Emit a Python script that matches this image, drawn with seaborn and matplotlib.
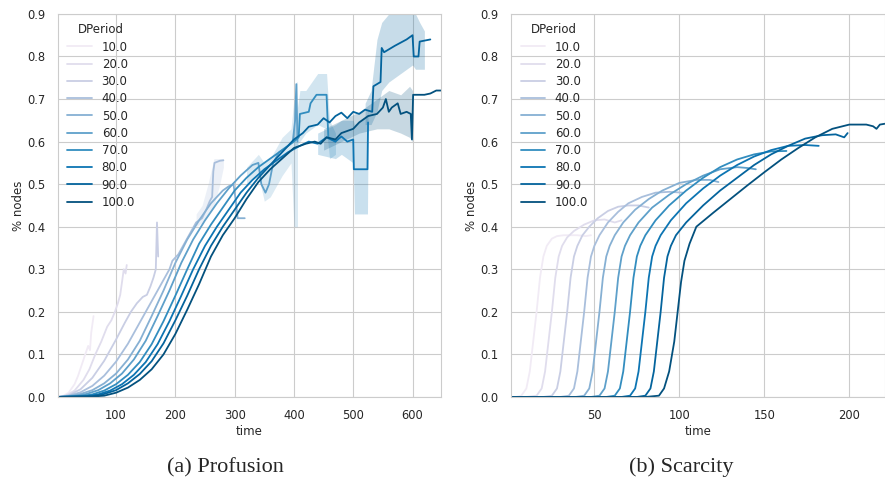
import pandas as pd
import seaborn as sns
import matplotlib.pyplot as plt

periods = ["10.0", "20.0", "30.0", "40.0", "50.0", "60.0", "70.0", "80.0", "90.0", "100.0"]

# (a) Profusion: time / share of nodes, one pair per DPeriod
pro_t10 = [2, 10, 20, 30, 36, 42, 48, 53, 56, 58, 60, 62]
pro_y10 = [0.0, 0.002, 0.01, 0.03, 0.05, 0.075, 0.1, 0.12, 0.11, 0.15, 0.17, 0.19]
pro_t20 = [2, 15, 30, 45, 55, 65, 75, 85, 92, 98, 103, 107, 110, 113, 116, 118]
pro_y20 = [0.0, 0.003, 0.015, 0.04, 0.065, 0.1, 0.13, 0.165, 0.18, 0.2, 0.22, 0.24, 0.27, 0.3, 0.29, 0.31]
pro_t30 = [2, 20, 40, 60, 80, 100, 115, 125, 135, 145, 152, 158, 163, 167, 169, 171]
pro_y30 = [0.0, 0.004, 0.018, 0.045, 0.085, 0.135, 0.175, 0.2, 0.22, 0.235, 0.24, 0.26, 0.28, 0.3, 0.41, 0.33]
pro_t40 = [2, 20, 40, 60, 80, 100, 120, 140, 160, 180, 190, 195, 205, 215, 225, 235, 245, 252, 258, 262, 264, 266, 275, 281]
pro_y40 = [0.0, 0.003, 0.011, 0.026, 0.05, 0.083, 0.125, 0.175, 0.225, 0.275, 0.3, 0.32, 0.335, 0.36, 0.385, 0.41, 0.42, 0.44, 0.46, 0.47, 0.53, 0.55, 0.555, 0.556]
pro_t50 = [2, 20, 40, 60, 80, 100, 120, 140, 160, 180, 200, 220, 240, 260, 280, 290, 298, 302, 305, 317]
pro_y50 = [0.0, 0.002, 0.007, 0.016, 0.032, 0.055, 0.088, 0.132, 0.19, 0.25, 0.315, 0.37, 0.415, 0.455, 0.485, 0.495, 0.5, 0.46, 0.42, 0.42]
pro_t60 = [2, 30, 50, 70, 90, 110, 130, 150, 170, 190, 210, 230, 250, 270, 290, 310, 330, 340, 345, 352, 358, 365, 375, 390, 398, 402, 404, 406]
pro_y60 = [0.0, 0.002, 0.007, 0.016, 0.032, 0.055, 0.088, 0.132, 0.19, 0.25, 0.315, 0.37, 0.415, 0.455, 0.49, 0.52, 0.545, 0.55, 0.5, 0.48, 0.5, 0.55, 0.575, 0.59, 0.6, 0.65, 0.735, 0.6]
pro_t70 = [2, 40, 60, 80, 100, 120, 140, 160, 180, 200, 220, 240, 260, 280, 300, 320, 340, 360, 380, 400, 408, 410, 425, 428, 438, 455, 458, 470]
pro_y70 = [0.0, 0.002, 0.006, 0.015, 0.03, 0.052, 0.082, 0.124, 0.178, 0.238, 0.3, 0.36, 0.405, 0.445, 0.485, 0.515, 0.54, 0.56, 0.58, 0.6, 0.61, 0.665, 0.67, 0.69, 0.71, 0.71, 0.61, 0.6]
pro_t80 = [2, 50, 70, 90, 110, 130, 150, 170, 190, 210, 230, 250, 270, 290, 310, 330, 350, 370, 390, 410, 425, 440, 455, 470, 480, 490, 500, 501, 524, 525]
pro_y80 = [0.0, 0.002, 0.006, 0.015, 0.03, 0.052, 0.082, 0.124, 0.178, 0.238, 0.3, 0.355, 0.4, 0.44, 0.48, 0.51, 0.535, 0.555, 0.575, 0.59, 0.6, 0.595, 0.61, 0.6, 0.612, 0.6, 0.605, 0.535, 0.535, 0.645]
pro_t90 = [2, 60, 80, 100, 120, 140, 160, 180, 200, 220, 240, 260, 280, 300, 320, 340, 360, 380, 400, 415, 425, 440, 450, 460, 470, 480, 490, 500, 510, 520, 532, 534, 546, 548, 552, 570, 590, 600, 602, 610, 612, 630]
pro_y90 = [0.0, 0.002, 0.007, 0.016, 0.032, 0.054, 0.084, 0.126, 0.18, 0.238, 0.3, 0.355, 0.4, 0.44, 0.48, 0.515, 0.545, 0.575, 0.605, 0.62, 0.635, 0.64, 0.655, 0.645, 0.66, 0.668, 0.655, 0.67, 0.665, 0.675, 0.67, 0.73, 0.74, 0.82, 0.81, 0.825, 0.84, 0.85, 0.8, 0.8, 0.835, 0.84]
pro_t100 = [2, 60, 80, 100, 120, 140, 160, 180, 200, 220, 240, 260, 280, 300, 320, 340, 360, 380, 400, 420, 435, 445, 455, 470, 480, 490, 500, 510, 525, 540, 550, 555, 560, 565, 575, 580, 590, 597, 599, 601, 620, 630, 640, 648]
pro_y100 = [0.0, 0.001, 0.003, 0.01, 0.022, 0.04, 0.065, 0.1, 0.148, 0.205, 0.265, 0.33, 0.38, 0.42, 0.465, 0.505, 0.535, 0.56, 0.585, 0.595, 0.6, 0.595, 0.61, 0.605, 0.62, 0.625, 0.63, 0.645, 0.66, 0.665, 0.68, 0.7, 0.67, 0.68, 0.69, 0.665, 0.67, 0.665, 0.605, 0.71, 0.71, 0.713, 0.72, 0.72]

# spread bands (lower / upper) where the runs disagree
band_t40 = [235, 245, 255, 265, 275, 281]
band_lo40 = [0.40, 0.41, 0.43, 0.45, 0.50, 0.54]
band_hi40 = [0.43, 0.45, 0.50, 0.56, 0.56, 0.56]
band_t60 = [320, 340, 350, 360, 380, 395, 400, 404, 406]
band_lo60 = [0.50, 0.52, 0.46, 0.47, 0.52, 0.55, 0.40, 0.40, 0.40]
band_hi60 = [0.54, 0.57, 0.55, 0.56, 0.61, 0.63, 0.70, 0.74, 0.74]
band_t70 = [400, 410, 420, 440, 455, 460, 470]
band_lo70 = [0.58, 0.60, 0.62, 0.64, 0.63, 0.56, 0.57]
band_hi70 = [0.62, 0.72, 0.72, 0.76, 0.76, 0.65, 0.62]
band_t80 = [440, 470, 480, 490, 500, 502, 524, 525]
band_lo80 = [0.57, 0.56, 0.57, 0.56, 0.55, 0.43, 0.43, 0.60]
band_hi80 = [0.62, 0.64, 0.65, 0.65, 0.65, 0.64, 0.66, 0.68]
band_t90 = [520, 530, 540, 548, 560, 580, 600, 605, 612, 620]
band_lo90 = [0.64, 0.64, 0.67, 0.72, 0.74, 0.76, 0.78, 0.77, 0.77, 0.77]
band_hi90 = [0.69, 0.72, 0.84, 0.88, 0.90, 0.90, 0.90, 0.90, 0.88, 0.86]
band_t100 = [450, 480, 510, 540, 560, 580, 595, 600]
band_lo100 = [0.58, 0.60, 0.62, 0.63, 0.63, 0.62, 0.61, 0.60]
band_hi100 = [0.63, 0.65, 0.67, 0.70, 0.72, 0.71, 0.73, 0.72]

# (b) Scarcity
sca_t10 = [1, 4, 7, 10, 12, 14, 16, 18, 20, 22, 25, 28, 32, 40, 45, 48]
sca_y10 = [0.0, 0.0, 0.003, 0.02, 0.06, 0.13, 0.2, 0.28, 0.33, 0.355, 0.372, 0.378, 0.38, 0.38, 0.378, 0.38]
sca_t20 = [1, 10, 16, 19, 21, 23, 25, 27, 29, 31, 34, 38, 44, 50, 56, 62, 66]
sca_y20 = [0.0, 0.0, 0.003, 0.02, 0.06, 0.13, 0.2, 0.28, 0.33, 0.355, 0.375, 0.39, 0.405, 0.415, 0.417, 0.41, 0.415]
sca_t30 = [1, 20, 25, 28, 30, 32, 34, 36, 38, 40, 43, 47, 52, 58, 64, 70, 76, 82]
sca_y30 = [0.0, 0.0, 0.003, 0.02, 0.06, 0.13, 0.2, 0.28, 0.33, 0.355, 0.38, 0.4, 0.42, 0.437, 0.447, 0.45, 0.45, 0.445]
sca_t40 = [1, 30, 35, 38, 40, 42, 44, 46, 48, 50, 53, 58, 64, 70, 78, 86, 94, 102]
sca_y40 = [0.0, 0.0, 0.003, 0.02, 0.06, 0.13, 0.2, 0.28, 0.33, 0.355, 0.38, 0.41, 0.435, 0.455, 0.47, 0.48, 0.482, 0.48]
sca_t50 = [1, 39, 44, 47, 49, 51, 53, 55, 57, 59, 62, 67, 74, 82, 90, 100, 110, 118, 123]
sca_y50 = [0.0, 0.0, 0.003, 0.02, 0.06, 0.13, 0.2, 0.28, 0.33, 0.355, 0.38, 0.41, 0.44, 0.465, 0.485, 0.503, 0.51, 0.51, 0.505]
sca_t60 = [1, 48, 53, 56, 58, 60, 62, 64, 66, 68, 71, 76, 84, 94, 104, 114, 124, 134, 140, 145]
sca_y60 = [0.0, 0.0, 0.003, 0.02, 0.06, 0.13, 0.2, 0.28, 0.33, 0.355, 0.38, 0.41, 0.445, 0.475, 0.5, 0.52, 0.535, 0.54, 0.538, 0.535]
sca_t70 = [1, 57, 62, 65, 67, 69, 71, 73, 75, 77, 80, 86, 94, 104, 114, 124, 134, 144, 154, 163]
sca_y70 = [0.0, 0.0, 0.003, 0.02, 0.06, 0.13, 0.2, 0.28, 0.33, 0.355, 0.38, 0.415, 0.45, 0.485, 0.515, 0.54, 0.558, 0.57, 0.577, 0.578]
sca_t80 = [1, 66, 71, 74, 76, 78, 80, 82, 84, 86, 89, 95, 104, 114, 124, 134, 144, 154, 164, 174, 182]
sca_y80 = [0.0, 0.0, 0.003, 0.02, 0.06, 0.13, 0.2, 0.28, 0.33, 0.355, 0.38, 0.415, 0.455, 0.49, 0.52, 0.545, 0.565, 0.58, 0.59, 0.592, 0.59]
sca_t90 = [1, 75, 80, 83, 85, 87, 89, 91, 93, 95, 98, 104, 114, 124, 134, 144, 154, 164, 174, 184, 192, 197, 199]
sca_y90 = [0.0, 0.0, 0.003, 0.02, 0.06, 0.13, 0.2, 0.28, 0.33, 0.355, 0.38, 0.41, 0.45, 0.485, 0.515, 0.545, 0.57, 0.59, 0.607, 0.615, 0.617, 0.61, 0.62]
sca_t100 = [1, 80, 88, 91, 94, 97, 99, 101, 103, 106, 110, 120, 130, 140, 150, 160, 170, 180, 190, 200, 210, 214, 216, 218, 221]
sca_y100 = [0.0, 0.0, 0.003, 0.02, 0.06, 0.13, 0.2, 0.27, 0.32, 0.36, 0.4, 0.433, 0.465, 0.497, 0.528, 0.558, 0.585, 0.61, 0.63, 0.64, 0.64, 0.636, 0.63, 0.64, 0.642]

pro_series = [(pro_t10, pro_y10), (pro_t20, pro_y20), (pro_t30, pro_y30), (pro_t40, pro_y40),
              (pro_t50, pro_y50), (pro_t60, pro_y60), (pro_t70, pro_y70), (pro_t80, pro_y80),
              (pro_t90, pro_y90), (pro_t100, pro_y100)]
sca_series = [(sca_t10, sca_y10), (sca_t20, sca_y20), (sca_t30, sca_y30), (sca_t40, sca_y40),
              (sca_t50, sca_y50), (sca_t60, sca_y60), (sca_t70, sca_y70), (sca_t80, sca_y80),
              (sca_t90, sca_y90), (sca_t100, sca_y100)]
pro_bands = {"40.0": (band_t40, band_lo40, band_hi40), "60.0": (band_t60, band_lo60, band_hi60),
             "70.0": (band_t70, band_lo70, band_hi70), "80.0": (band_t80, band_lo80, band_hi80),
             "90.0": (band_t90, band_lo90, band_hi90), "100.0": (band_t100, band_lo100, band_hi100)}


def to_frame(series):
    parts = [pd.DataFrame({"time": t, "% nodes": y, "DPeriod": p}) for p, (t, y) in zip(periods, series)]
    return pd.concat(parts, ignore_index=True)


sns.set_style("whitegrid")
plt.rcParams["font.family"] = ["DejaVu Sans"]
plt.rcParams["xtick.labelsize"] = 8.3
plt.rcParams["ytick.labelsize"] = 8.3
plt.rcParams["axes.labelsize"] = 8.5
plt.rcParams["xtick.major.pad"] = 5
plt.rcParams["ytick.major.pad"] = 5.5

pal = sns.color_palette("PuBu", 10)

fig, axes = plt.subplots(1, 2, figsize=(8.85, 4.8), dpi=100)
axes[0].set_position([0.0655, 0.173, 0.4328, 0.798])
axes[1].set_position([0.5775, 0.173, 0.4225, 0.798])

panels = [(axes[0], pro_series, (2, 648), [100, 200, 300, 400, 500, 600]),
          (axes[1], sca_series, (1, 221), [50, 100, 150, 200])]
for ax, series, xlim, xticks in panels:
    if ax is axes[0]:
        for p, (bt, lo, hi) in pro_bands.items():
            ax.fill_between(bt, lo, hi, color=pal[periods.index(p)], alpha=0.22, lw=0)
    sns.lineplot(data=to_frame(series), x="time", y="% nodes", hue="DPeriod", hue_order=periods,
                 palette=pal, errorbar=None, lw=1.3, ax=ax)
    ax.set_xlim(*xlim)
    ax.set_ylim(0, 0.9)
    ax.set_xticks(xticks)
    ax.set_yticks([0.0, 0.1, 0.2, 0.3, 0.4, 0.5, 0.6, 0.7, 0.8, 0.9])
    ax.set_xlabel("time", labelpad=2)
    ax.set_ylabel("% nodes", labelpad=1.5)
    sns.move_legend(ax, "upper left", frameon=False, fontsize=8.5, title_fontsize=8.5,
                    labelspacing=0.36, handlelength=2.1, title="DPeriod", borderaxespad=0.4)

fig.text(0.255, 0.026, "(a) Profusion", ha="center", va="center", family="Liberation Serif", fontsize=16)
fig.text(0.770, 0.026, "(b) Scarcity", ha="center", va="center", family="Liberation Serif", fontsize=16)

fig.savefig("out.png", dpi=100)
